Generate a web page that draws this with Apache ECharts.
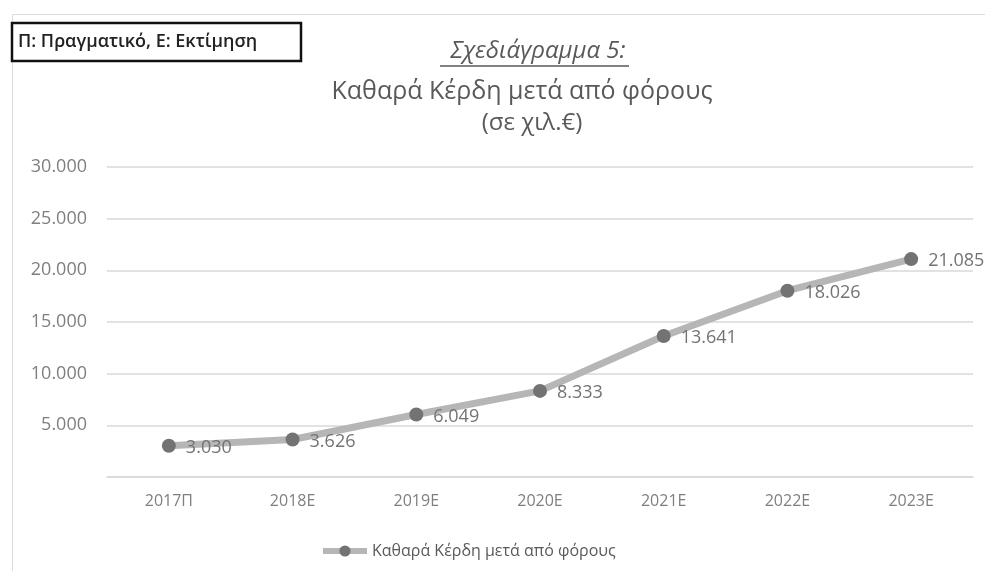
<!DOCTYPE html>
<html><head><meta charset="utf-8">
<script src="https://cdn.jsdelivr.net/npm/echarts@6/dist/echarts.min.js"></script>
<style>html,body{margin:0;padding:0;background:#fff}#c{width:985px;height:571px}</style>
</head><body><div id="c"></div>
<script>
const categories = ['2017Π','2018Ε','2019Ε','2020Ε','2021Ε','2022Ε','2023Ε'];
const profits = [3030, 3626, 6049, 8333, 13641, 18026, 21085];
const seriesName = 'Καθαρά Κέρδη μετά από φόρους';
const yTicks = [0, 5000, 10000, 15000, 20000, 25000, 30000];

function fmt(v){ if(v===0) return ''; return String(v).replace(/\B(?=(\d{3})+(?!\d))/g,'.'); }
const FONT = 'Open Sans';
const chart = echarts.init(document.getElementById('c'));
chart.setOption({
  animation:false,
  textStyle:{fontFamily:FONT},
  title:[
    {text:'Σχεδιάγραμμα 5:', left:533, top:34, textAlign:'center',
     textStyle:{fontSize:24, fontStyle:'italic', fontWeight:'normal', color:'#595959', fontFamily:FONT}},
    {text:'Καθαρά Κέρδη μετά από φόρους', left:517, top:74, textAlign:'center',
     textStyle:{fontSize:25, fontWeight:'normal', color:'#595959', fontFamily:FONT}},
    {text:'(σε χιλ.€)', left:527, top:106, textAlign:'center',
     textStyle:{fontSize:24, fontWeight:'normal', color:'#595959', fontFamily:FONT}}
  ],
  graphic:[
    {type:'rect', shape:{x:12.5,y:14.5,width:990,height:570}, style:{fill:'none', stroke:'#dcdcdc', lineWidth:1}, silent:true},
    {type:'rect', shape:{x:12,y:23,width:289,height:38}, style:{fill:'#fff', stroke:'#111', lineWidth:2.5}},
    {type:'text', x:18, y:42, style:{text:'Π: Πραγματικό, Ε: Εκτίμηση', fill:'#222', font:'600 18px "Open Sans"', textVerticalAlign:'middle'}},
    {type:'line', shape:{x1:440,y1:66,x2:629,y2:66}, style:{stroke:'#595959', lineWidth:1.3}}
  ],
  grid:{left:107, right:12, top:167, bottom:94, containLabel:false},
  legend:{bottom:7, left:315, itemWidth:44, itemHeight:14, itemGap:0,
    lineStyle:{width:6, color:'#b6b6b6'},
    textStyle:{color:'#595959', fontSize:16, fontFamily:FONT}, data:[seriesName]},
  xAxis:{type:'category', data:categories, boundaryGap:true,
    axisLine:{lineStyle:{color:'#d9d9d9', width:1.5}}, axisTick:{show:false},
    axisLabel:{color:'#7f7f7f', fontSize:16, margin:16, fontFamily:FONT}},
  yAxis:{type:'value', min:0, max:30000, interval:5000,
    axisLine:{show:false}, axisTick:{show:false},
    splitLine:{lineStyle:{color:'#d9d9d9', width:1.5}},
    axisLabel:{color:'#7f7f7f', fontSize:18, margin:20, fontFamily:FONT, formatter:fmt}},
  series:[{
    name:seriesName, type:'line', data:profits,
    lineStyle:{color:'#b6b6b6', width:7},
    symbol:'circle', symbolSize:14,
    itemStyle:{color:'#737373', borderWidth:0},
    label:{show:true, position:'right', distance:10, offset:[0,2], color:'#737373', fontSize:18, fontFamily:FONT, formatter:p=>fmt(p.value)}
  }]
});
</script></body></html>
